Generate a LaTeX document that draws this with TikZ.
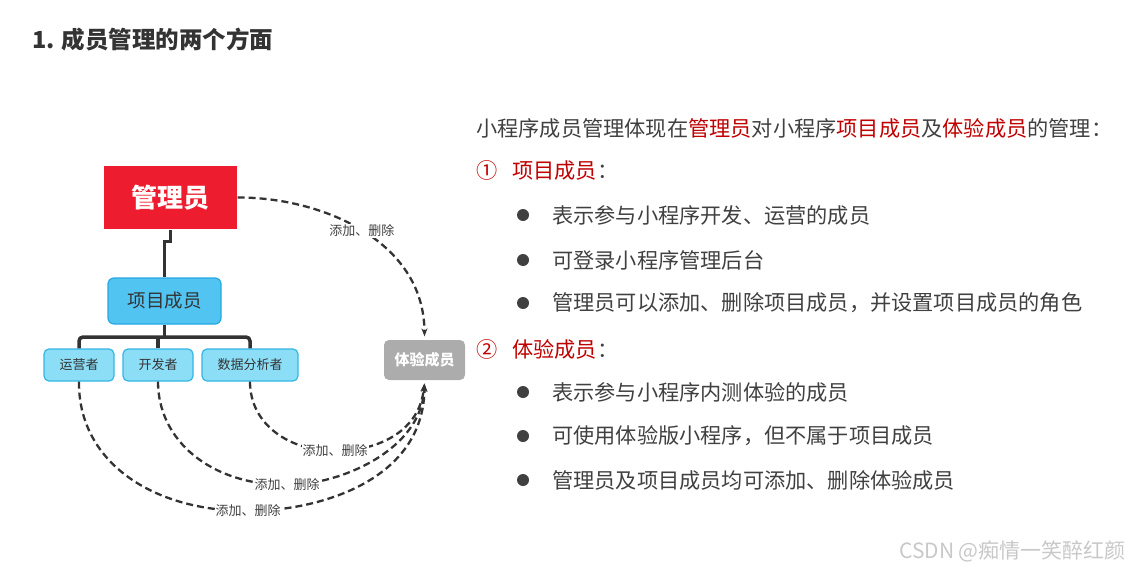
\documentclass[tikz,border=0pt]{standalone}
\usepackage{fontspec}
\setmainfont{Noto Sans CJK SC}
\usetikzlibrary{arrows.meta}
\definecolor{adminred}{RGB}{237,28,46}
\definecolor{projblue}{RGB}{82,196,242}
\definecolor{projline}{RGB}{38,168,226}
\definecolor{roleblue}{RGB}{140,222,247}
\definecolor{roleline}{RGB}{52,182,228}
\definecolor{expgray}{RGB}{172,172,172}
\definecolor{linegray}{RGB}{51,51,51}
\definecolor{bodygray}{RGB}{64,64,64}
\definecolor{keyred}{RGB}{192,0,0}
\definecolor{markgray}{RGB}{200,200,200}
\newcommand{\redword}[1]{\textcolor{keyred}{#1}}
\tikzset{
  box/.style={inner sep=0pt, line width=1.2pt},
  adminbox/.style={box, fill=adminred, text=white, minimum width=133pt, minimum height=63pt,
    font=\fontsize{26}{30}\selectfont\bfseries},
  projbox/.style={box, draw=projline, fill=projblue, text=linegray, rounded corners=6pt,
    minimum width=113pt, minimum height=46pt, font=\fontsize{18.5}{22}\selectfont},
  rolebox/.style={box, draw=roleline, fill=roleblue, text=linegray, rounded corners=5pt,
    minimum width=70pt, minimum height=32pt, font=\fontsize{13}{15}\selectfont},
  expbox/.style={box, fill=expgray, text=white, rounded corners=5pt,
    minimum width=81pt, minimum height=40pt, font=\fontsize{15}{18}\selectfont\bfseries},
  tree/.style={draw=linegray, line width=3.5pt},
  addedge/.style={draw=linegray, line width=2.3pt, dash pattern=on 7pt off 4pt,
    -{Stealth[length=8pt,width=6pt]}, shorten >=3pt},
  addlabel/.style={fill=white, inner sep=1pt, text=bodygray, font=\fontsize{13}{15}\selectfont},
  txt/.style={anchor=west, inner sep=0pt, text=bodygray, font=\fontsize{21.2}{25}\selectfont},
}
\begin{document}
\begin{tikzpicture}[x=1pt,y=-1pt]
\useasboundingbox (0,0) rectangle (1138,570);
% title
\node[anchor=west, inner sep=0pt, text=linegray, font=\fontsize{23.5}{27}\selectfont\bfseries] (title) at (32,40) {1. 成员管理的两个方面};
% boxes
\node[adminbox] (admin) at (170.5,197.5) {管理员};
\node[projbox] (proj) at (164.5,301) {项目成员};
\node[rolebox] (ops) at (79,365) {运营者};
\node[rolebox] (dev) at (158,365) {开发者};
\node[rolebox, minimum width=96pt] (ana) at (250,365) {数据分析者};
\node[expbox] (exp) at (424.5,360) {体验成员};
% tree
\coordinate (fork) at (164.5,337);
\draw[tree] (admin.south) -- ++(0,12) -| (proj.north);
\draw[tree] (proj.south) -- (fork);
\draw[tree, rounded corners=4pt] (ops.north) |- (fork) -| (ana.north);
\draw[tree] (dev.north) -- (dev.north |- fork);
% add / delete
\draw[addedge] (admin.east) .. controls (320,197) and (424,240) .. (exp.north)
  node[addlabel, pos=0.5] {添加、删除};
\draw[addedge] (ops.south) .. controls (78,460) and (150,511) .. (248,511)
  node[addlabel] {添加、删除}
  .. controls (320,511) and (424,480) .. (exp.south);
\draw[addedge] (dev.south) .. controls (158,440) and (210,485) .. (287,485)
  node[addlabel] {添加、删除}
  .. controls (340,485) and (422,450) .. (exp.south);
\draw[addedge] (ana.south) .. controls (250,425) and (290,451) .. (335,451)
  node[addlabel] {添加、删除}
  .. controls (380,451) and (420,430) .. (exp.south);
% text
\node[txt] (intro) at (476,128) {小程序成员管理体现在\redword{管理员}对小程序\redword{项目成员}及\redword{体验成员}的管理：};
\node[txt] (itemA) at (476,170) {\redword{①\hspace{15pt}项目成员}：};
\node[txt] (itemB) at (476,349) {\redword{②\hspace{15pt}体验成员}：};
\foreach \y/\name/\line in {215/a1/表示参与小程序开发、运营的成员,
    260/a2/可登录小程序管理后台,
    303/a3/管理员可以添加、删除项目成员，并设置项目成员的角色,
    392/b1/表示参与小程序内测体验的成员,
    436/b2/可使用体验版小程序，但不属于项目成员,
    480/b3/管理员及项目成员均可添加、删除体验成员}{
  \fill[bodygray] (523,\y) circle[radius=6];
  \node[txt] (\name) at (552,\y) {\line};
}
\node[txt, text=markgray, font=\fontsize{21}{25}\selectfont] (mark) at (899,551) {CSDN @痴情一笑醉红颜};
\end{tikzpicture}
\end{document}
